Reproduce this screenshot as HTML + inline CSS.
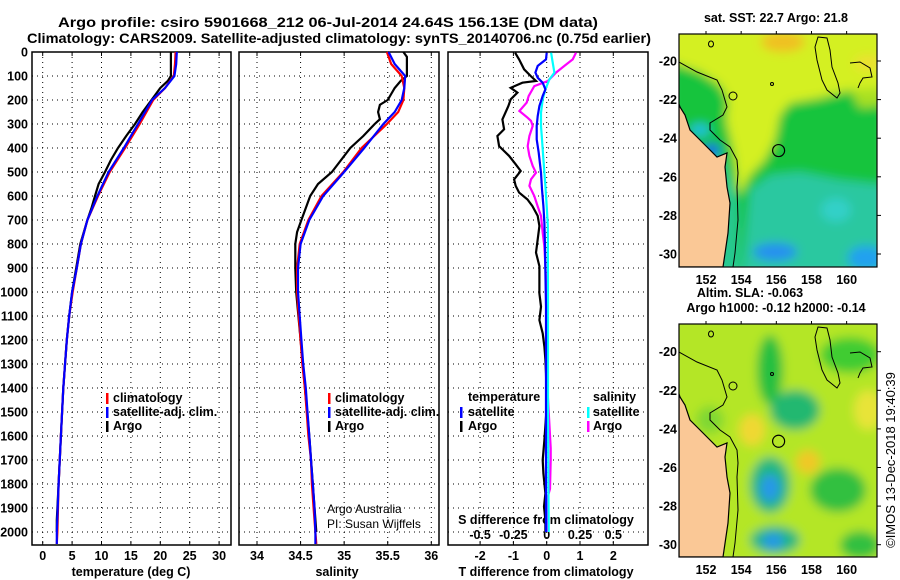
<!DOCTYPE html>
<html><head><meta charset="utf-8"><style>
html,body{margin:0;padding:0;background:#fff;}
svg{display:block;font-family:"Liberation Sans",sans-serif;}
.b{font-weight:bold;font-size:12.5px;}
.n{font-size:12px;}
</style></head><body>
<svg id="fig" width="900" height="580" viewBox="0 0 900 580" xmlns="http://www.w3.org/2000/svg">
<defs>
<filter id="bl" x="-10%" y="-10%" width="120%" height="120%"><feGaussianBlur stdDeviation="5"/></filter>
<clipPath id="c1"><rect x="679" y="34" width="198" height="233"/></clipPath>
<clipPath id="c2"><rect x="679" y="324" width="198" height="233"/></clipPath>
</defs>
<text x="328" y="27" text-anchor="middle" font-weight="bold" font-size="14" textLength="540" lengthAdjust="spacingAndGlyphs">Argo profile: csiro 5901668_212 06-Jul-2014 24.64S 156.13E (DM data)</text>
<text x="339" y="43" text-anchor="middle" font-weight="bold" font-size="14" textLength="624" lengthAdjust="spacingAndGlyphs">Climatology: CARS2009. Satellite-adjusted climatology: synTS_20140706.nc (0.75d earlier)</text>
<g id="g1"></g>
<g id="g2"></g>
<g id="g3"></g>
<g id="maps"></g>
<text transform="translate(895,460) rotate(-90)" text-anchor="middle" font-size="13">©IMOS 13-Dec-2018 19:40:39</text>
</svg>
<script>
// ---- data ----
const depthLabels = [0,100,200,300,400,500,600,700,800,900,1000,1100,1200,1300,1400,1500,1600,1700,1800,1900,2000];
const depthClim = [0,50,100,150,200,300,400,500,600,700,800,900,1000,1100,1200,1400,1600,1800,2000,2050];
const tempClim = [22.6,22.5,22.3,20.8,18.8,16.5,14.0,11.4,9.4,7.6,6.5,5.8,5.1,4.5,4.1,3.5,3.1,2.7,2.5,2.4];
const tempSat = [22.8,22.7,22.4,20.8,18.6,16.2,13.8,11.2,9.3,7.6,6.5,5.8,5.0,4.5,4.1,3.5,3.1,2.7,2.4,2.4];
const depthArgo = [0,50,100,120,150,200,250,300,350,400,450,500,550,600,650,700,800,900,1000,1100,1200,1400,1600,1800,1950,2000];
const tempArgo = [21.8,21.8,21.8,21.3,20.0,18.5,17.0,15.7,14.2,12.8,11.6,10.6,9.5,8.9,8.3,7.6,6.4,5.7,5.0,4.5,4.1,3.5,3.1,2.7,2.4,2.4];
const salDepth = [0,50,100,150,200,250,300,400,500,600,700,800,900,1000,1100,1200,1300,1400,1500,1600,1700,1800,1900,2000,2050];
const salClim = [35.49,35.54,35.66,35.69,35.68,35.62,35.49,35.20,34.99,34.74,34.59,34.49,34.46,34.46,34.48,34.50,34.52,34.55,34.57,34.59,34.62,34.63,34.65,34.67,34.68];
const salSat = [35.51,35.58,35.70,35.69,35.66,35.58,35.45,35.23,35.00,34.76,34.60,34.50,34.47,34.47,34.49,34.51,34.53,34.56,34.58,34.60,34.62,34.64,34.66,34.67,34.67];
const salArgoDepth = [0,20,100,120,150,200,220,250,280,300,350,400,500,550,600,700,750,800,900,1000,1200,1400,1600,1800,2000];
const salArgo = [35.68,35.72,35.72,35.65,35.58,35.50,35.41,35.39,35.41,35.35,35.22,35.07,34.86,34.70,34.61,34.51,34.46,34.44,34.44,34.45,34.50,34.55,34.60,34.64,34.68];
const dtArgoDepth = [3,31,72,100,121,128,149,169,197,225,281,322,350,392,406,433,468,496,531,558,586,614,642,683,725,781,836,892,947,1006,1061,1117,1172,1228,1283,1339,1478,1617,1700,1756,1839,1894,1950,2000];
const dtArgo = [-0.95,-0.83,-0.68,-0.48,-0.32,-0.73,-1.08,-0.88,-1.08,-1.15,-1.33,-1.28,-1.48,-1.43,-1.33,-1.13,-0.93,-0.78,-0.98,-0.93,-0.83,-0.58,-0.43,-0.27,-0.22,-0.27,-0.32,-0.22,-0.22,-0.22,-0.17,-0.22,-0.12,-0.07,-0.04,-0.02,0,-0.07,-0.12,-0.1,-0.04,-0.08,-0.04,-0.04];
const dtSatDepth = [3,31,58,86,107,128,156,183,225,267,308,364,419,503,572,642,711,808,919,1061,2000];
const dtSat = [0,-0.02,-0.27,-0.34,-0.27,-0.12,-0.04,-0.12,-0.22,-0.27,-0.30,-0.30,-0.24,-0.17,-0.14,-0.10,-0.07,-0.05,-0.04,-0.02,-0.02];
const dsSatDepth = [3,44,86,114,156,197,253,308,364,447,558,642,722,1000,1500,2000];
const dsSat = [0.033,0.045,0.058,0.02,-0.01,-0.03,-0.043,-0.043,-0.035,-0.025,-0.01,0,0.008,0.01,0.01,0.015];
const dsArgoDepth = [3,31,58,86,121,142,183,211,246,274,287,308,350,392,433,475,503,531,558,600,642,683,753,808,892,1000,1400,1650,1700,1820,1850,2000];
const dsArgo = [0.22,0.195,0.133,0.07,0.008,-0.093,-0.135,-0.15,-0.205,-0.143,-0.118,-0.105,-0.13,-0.143,-0.13,-0.105,-0.08,-0.118,-0.13,-0.093,-0.068,-0.043,-0.03,-0.018,-0.01,0,0.005,0.03,0.03,0.025,0.01,0.01];
const tTicks = [0,5,10,15,20,25,30];
const sTicks = [34,34.5,35,35.5,36];
const dTicks = [-2,-1,0,1,2];
const dsTicks = [-0.5,-0.25,0,0.25,0.5];
const dsTickLabels = ["-0.5","-0.25","0","0.25","0.5"];
const latTicks = [-20,-22,-24,-26,-28,-30];
const lonTicks = [152,154,156,158,160];
const floatLon = 156.13, floatLat = -24.64;

// ---- scales ----
const NS="http://www.w3.org/2000/svg";
const yD = d => 52 + d*0.24;
const xT = t => 42.7 + t*5.88;
const xS = s => 257 + (s-34)*87.15;
const xDT = t => 546.7 + t*33.3;
const xDS = s => 546.7 + s*4*33.3;
const lonX = l => 706 + (l-152)*17.58;
const latY1 = a => 61 + (-20-a)*19.3;
const latY2 = a => 351.7 + (-20-a)*19.3;

function mk(tag, attrs, parent){const e=document.createElementNS(NS,tag);for(const k in attrs)e.setAttribute(k,attrs[k]);parent.appendChild(e);return e;}
function txt(parent,x,y,s,anchor,cls){const e=mk('text',{x:x,y:y,'text-anchor':anchor||'middle','class':cls||'b'},parent);e.textContent=s;return e;}
function line(parent,xs,ds,fx,color,w){
  let d='';
  for(let i=0;i<xs.length;i++){d+=(i?'L':'M')+fx(xs[i]).toFixed(1)+','+yD(ds[i]).toFixed(1);}
  return mk('path',{d:d,fill:'none',stroke:color,'stroke-width':w||2.2,'stroke-linejoin':'miter'},parent);
}
function frame(g,x0,x1,vxs){
  for(const v of vxs){const gl=mk('line',{x1:v,x2:v,y1:52,y2:545,stroke:'#000','stroke-width':1,'stroke-dasharray':'1,4'},g);
    
    }
  for(const d of depthLabels){const gl=mk('line',{x1:x0,x2:x1,y1:yD(d),y2:yD(d),stroke:'#000','stroke-width':1,'stroke-dasharray':'1,4'},g);
    
    }
  for(const v of vxs){mk('line',{x1:v,x2:v,y1:52,y2:56,stroke:'#000'},g);mk('line',{x1:v,x2:v,y1:541,y2:545,stroke:'#000'},g);}
  const r=mk('rect',{x:x0,y:52,width:x1-x0,height:493,fill:'none',stroke:'#000','stroke-width':1.5},g);
  
  
}
function legendMark(g,x,y,color){mk('rect',{x:x,y:y-9,width:2.5,height:11,fill:color},g);}

// ---- panel 1 ----
const g1=document.getElementById('g1');
frame(g1,32,231,tTicks.map(xT));
for(const d of depthLabels){const t=txt(g1,28,yD(d)+4.5,String(d),'end');
  
  }
for(const t of tTicks){const e=txt(g1,xT(t),560,String(t));
  
  }
const xt1=txt(g1,131,576,'temperature (deg C)');


let p=line(g1,tempArgo,depthArgo,xT,'#000');


p=line(g1,tempClim,depthClim,xT,'#ff0000');


p=line(g1,tempSat,depthClim,xT,'#0000ff');


[['climatology','#ff0000',402],['satellite-adj. clim.','#0000ff',416],['Argo','#000',430]].forEach(a=>{
  legendMark(g1,106,a[2],a[1]);const e=txt(g1,113,a[2],a[0],'start');
  
  });

// ---- panel 2 ----
const g2=document.getElementById('g2');
frame(g2,239,439,sTicks.map(xS));
for(const s of sTicks){const e=txt(g2,xS(s),560,String(s));
  
  }
const xt2=txt(g2,337,576,'salinity');


p=line(g2,salArgo,salArgoDepth,xS,'#000');


p=line(g2,salClim,salDepth,xS,'#ff0000');


p=line(g2,salSat,salDepth,xS,'#0000ff');


[['climatology','#ff0000',402],['satellite-adj. clim.','#0000ff',416],['Argo','#000',430]].forEach(a=>{
  legendMark(g2,328,a[2],a[1]);const e=txt(g2,335,a[2],a[0],'start');
  
  });
let cr=txt(g2,327,513,'Argo Australia','start','n');


cr=txt(g2,327,528,'PI: Susan Wijffels','start','n');



// ---- panel 3 ----
const g3=document.getElementById('g3');
frame(g3,448,648,dTicks.map(xDT));
for(const t of dTicks){const e=txt(g3,xDT(t),560,String(t));
  
  }
dsTicks.forEach((s,i)=>{const e=txt(g3,xDS(s),539,dsTickLabels[i]);
  
  });
let e3=txt(g3,546,524,'S difference from climatology');


e3=txt(g3,546,576,'T difference from climatology');


p=line(g3,dtArgo,dtArgoDepth,xDT,'#000');


p=line(g3,dsArgo,dsArgoDepth,xDS,'#ff00ff');


p=line(g3,dsSat,dsSatDepth,xDS,'#00ffff');


p=line(g3,dtSat,dtSatDepth,xDT,'#0000ff');


e3=txt(g3,468,401,'temperature','start');


e3=txt(g3,593,401,'salinity','start');


[['satellite','#0000ff',416,460,468],['Argo','#000',430,460,468],['satellite','#00ffff',416,587,593],['Argo','#ff00ff',430,587,593]].forEach(a=>{
  legendMark(g3,a[3],a[2],a[1]);const e=txt(g3,a[4],a[2],a[0],'start');
  
  });

// ---- maps ----
const gm=document.getElementById('maps');
function pts(arr,off){return arr.map(q=>q[0]+','+(q[1]+off)).join(' ');}
function mapFrame(yTop,latY,title1,title2,clip,blobs){
  const off=yTop-34;
  const g=mk('g',{},gm);
  
  
  const cg=mk('g',{'clip-path':'url(#'+clip+')'},g);
  const bg=mk('g',{filter:'url(#bl)'},cg);
  blobs(bg);
  const land=[[679,104],[680,107],[685,115],[690,130],[697,137],[708,148],[717,157],[727,153],[725,167],[727,187],[730,203],[728,233],[723,267],[679,267]];
  const lp=mk('polygon',{points:pts(land,off),fill:'#fac896',stroke:'#000','stroke-width':1.2},cg);
  
  
  const cont=[[679,62],[697,72],[717,80],[722,90],[727,107],[723,115],[710,123],[710,130],[720,140],[730,147],[737,160],[738,173],[737,187],[738,220],[735,253],[733,267]];
  mk('polyline',{points:pts(cont,off),fill:'none',stroke:'#000','stroke-width':1},cg);
  const nc=[[818,37],[827,38],[830,50],[832,67],[838,83],[840,93],[837,98],[827,90],[822,80],[817,60],[815,47]];
  mk('polygon',{points:pts(nc,off),fill:'none',stroke:'#000','stroke-width':1},cg);
  mk('polyline',{points:pts([[850,63],[860,62],[870,68],[872,77],[863,78],[860,83],[858,88]],off),fill:'none',stroke:'#000','stroke-width':1},cg);
  mk('ellipse',{cx:711,cy:44+off,rx:2.5,ry:3,fill:'none',stroke:'#000'},cg);
  mk('ellipse',{cx:733,cy:96+off,rx:4,ry:4,fill:'none',stroke:'#000'},cg);
  mk('ellipse',{cx:772,cy:84+off,rx:1.5,ry:1.5,fill:'none',stroke:'#000'},cg);
  const ci=mk('circle',{cx:lonX(floatLon),cy:latY(floatLat),r:6,fill:'none',stroke:'#000','stroke-width':1.2},g);
  
  
  mk('rect',{x:679,y:yTop,width:198,height:233,fill:'none',stroke:'#000','stroke-width':1.2},g);
  for(const a of latTicks){const t=txt(g,677,latY(a)+4.5,String(a),'end');
    
    
    mk('line',{x1:877,x2:881,y1:latY(a),y2:latY(a),stroke:'#000'},g);}
  for(const l of lonTicks){const t=txt(g,lonX(l),yTop+250,String(l));
    
    
    mk('line',{x1:lonX(l),x2:lonX(l),y1:yTop-3,y2:yTop,stroke:'#000'},g);}
  if(title2){let t=txt(g,750,yTop-27,title1);
    
    
    t=txt(g,776,yTop-12,title2);
    
    }
  else {const t=txt(g,776,yTop-12,title1);
    
    }
}
mapFrame(34,latY1,'sat. SST: 22.7 Argo: 21.8',null,'c1',bg=>{
  mk('rect',{x:670,y:25,width:215,height:250,fill:'#2cc8a0'},bg);
  mk('polygon',{points:'670,60 885,60 885,185 840,180 800,172 770,175 750,190 742,275 670,275',fill:'#18c43c'},bg);
  mk('polygon',{points:'670,150 720,150 738,200 740,275 670,275',fill:'#28c890'},bg);
  mk('polygon',{points:'670,25 885,25 885,88 850,90 820,98 790,103 780,115 775,140 765,160 750,175 742,190 738,195 736,170 733,150 726,120 728,100 720,85 700,72 670,62',fill:'#d4f020'},bg);
  mk('polygon',{points:'850,90 885,88 885,105 860,108',fill:'#a8e020'},bg);
  mk('ellipse',{cx:783,cy:42,rx:22,ry:10,fill:'#f0c020'},bg);
  mk('ellipse',{cx:868,cy:63,rx:14,ry:8,fill:'#ece030'},bg);
  mk('ellipse',{cx:775,cy:252,rx:22,ry:9,fill:'#2890f0'},bg);
  mk('ellipse',{cx:866,cy:258,rx:18,ry:12,fill:'#20a0f0'},bg);
  mk('ellipse',{cx:712,cy:150,rx:8,ry:6,fill:'#1050f0'},bg);
  mk('ellipse',{cx:700,cy:130,rx:10,ry:6,fill:'#20c0e0'},bg);
  mk('ellipse',{cx:836,cy:210,rx:15,ry:12,fill:'#30d0c8'},bg);
});
mapFrame(324,latY2,'Altim. SLA: -0.063','Argo h1000: -0.12 h2000: -0.14','c2',bg=>{
  mk('rect',{x:670,y:315,width:215,height:250,fill:'#b4e628'},bg);
  mk('ellipse',{cx:770,cy:370,rx:13,ry:35,fill:'#28c040'},bg);
  mk('ellipse',{cx:795,cy:410,rx:25,ry:20,fill:'#20b870'},bg);
  mk('ellipse',{cx:850,cy:355,rx:30,ry:18,fill:'#40cc30'},bg);
  mk('ellipse',{cx:770,cy:485,rx:20,ry:28,fill:'#20b880'},bg);
  mk('ellipse',{cx:770,cy:488,rx:10,ry:14,fill:'#2898e8'},bg);
  mk('ellipse',{cx:775,cy:540,rx:25,ry:14,fill:'#20b880'},bg);
  mk('ellipse',{cx:773,cy:541,rx:11,ry:8,fill:'#2898e8'},bg);
  mk('ellipse',{cx:752,cy:430,rx:13,ry:16,fill:'#f0d830'},bg);
  mk('ellipse',{cx:808,cy:462,rx:12,ry:12,fill:'#f0c828'},bg);
  mk('ellipse',{cx:868,cy:410,rx:14,ry:20,fill:'#e8e438'},bg);
  mk('ellipse',{cx:838,cy:490,rx:28,ry:22,fill:'#30c040'},bg);
  mk('ellipse',{cx:710,cy:420,rx:14,ry:14,fill:'#80d830'},bg);
  mk('ellipse',{cx:860,cy:545,rx:20,ry:14,fill:'#30c040'},bg);
});
</script>
</body></html>
